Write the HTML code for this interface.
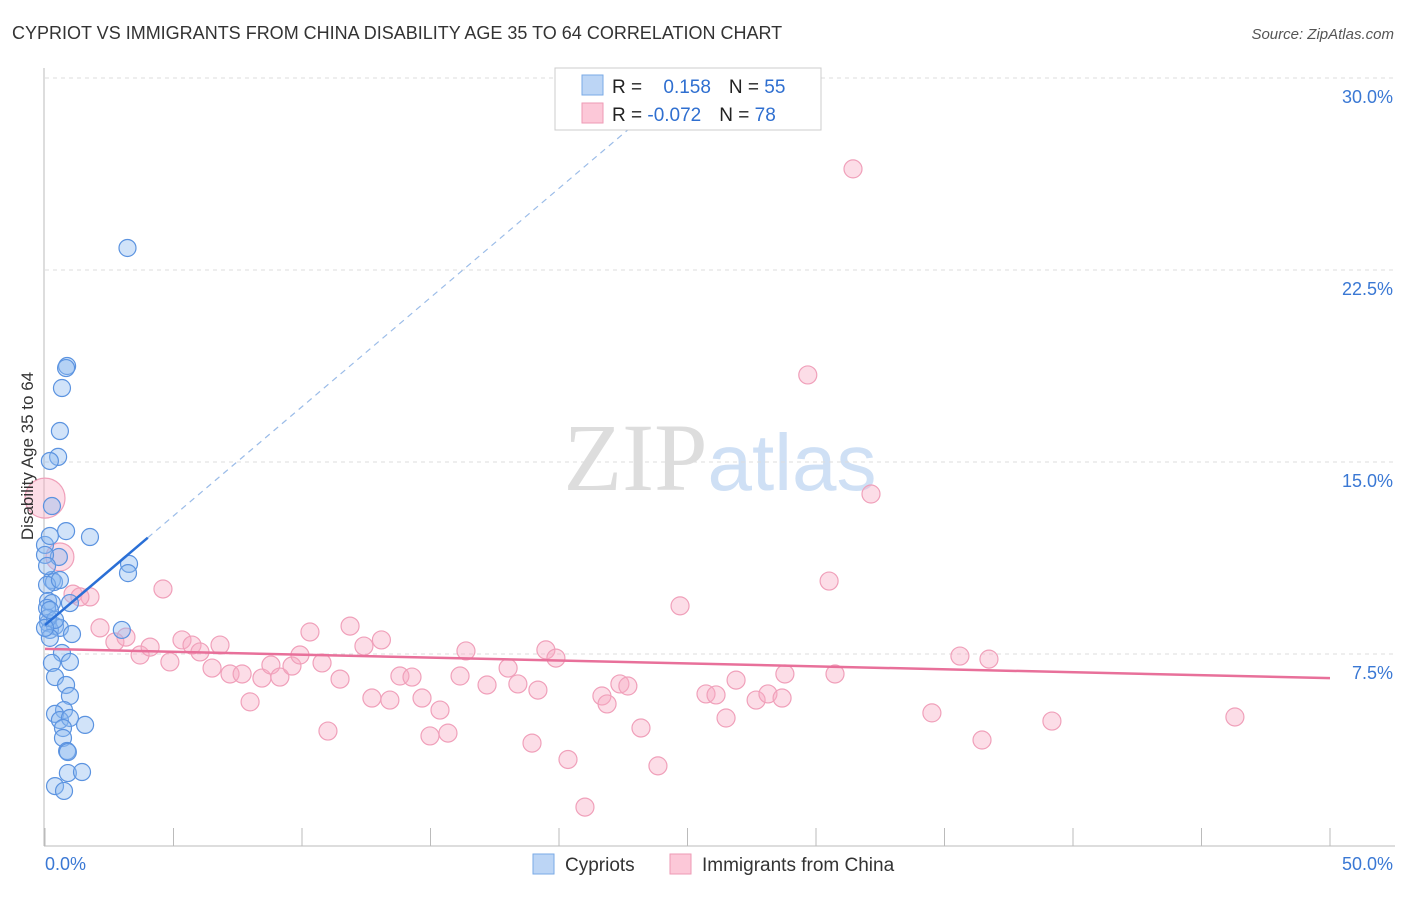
<!DOCTYPE html>
<html><head><meta charset="utf-8"><style>
body{margin:0;background:#fff;font-family:"Liberation Sans",sans-serif}
</style></head><body>
<svg id="chart" width="1406" height="892" xmlns="http://www.w3.org/2000/svg" font-family="Liberation Sans, sans-serif">
<text x="12" y="39" font-size="18" fill="#333">CYPRIOT VS IMMIGRANTS FROM CHINA DISABILITY AGE 35 TO 64 CORRELATION CHART</text>
<text x="1394" y="39" font-size="15" fill="#555" text-anchor="end" font-style="italic">Source: ZipAtlas.com</text>
<text x="720" y="490" font-size="96" text-anchor="middle"><tspan fill="#ddd" font-family="Liberation Serif, serif">ZIP</tspan><tspan fill="#cfe0f5" font-size="80">atlas</tspan></text>
<g id="grid"></g>
<g id="axes"></g>
<g id="marks"></g>
<text transform="translate(33,456) rotate(-90)" font-size="17" fill="#333" text-anchor="middle">Disability Age 35 to 64</text>
<g>
<rect x="555" y="68" width="266" height="62" fill="#fff" stroke="#ccc"/>
<rect x="582" y="75" width="21" height="20" fill="#bcd5f5" stroke="#7aaae6"/>
<rect x="582" y="103" width="21" height="20" fill="#fcc8d8" stroke="#ee9ab5"/>
<text x="612" y="93" font-size="19" fill="#222">R = <tspan fill="#2f6fd0" dx="16">0.158</tspan><tspan dx="18" fill="#222">N = </tspan><tspan fill="#2f6fd0">55</tspan></text>
<text x="612" y="121" font-size="19" fill="#222">R = <tspan fill="#2f6fd0">-0.072</tspan><tspan dx="18" fill="#222">N = </tspan><tspan fill="#2f6fd0">78</tspan></text>
</g>
<g>
<rect x="533" y="854" width="21" height="20" fill="#bcd5f5" stroke="#7aaae6"/>
<text x="565" y="871" font-size="19" fill="#333">Cypriots</text>
<rect x="670" y="854" width="21" height="20" fill="#fcc8d8" stroke="#ee9ab5"/>
<text x="702" y="871" font-size="19" fill="#333">Immigrants from China</text>
</g>
</svg>
<script>
const yTicks=[7.5,15,22.5,30];
const yTickLabels=["7.5%","15.0%","22.5%","30.0%"];
const xTicks=[0,5,10,15,20,25,30,35,40,45,50];
const cypX=[3.21,0.86,0.82,0.66,0.58,0.51,0.19,0.27,0.82,1.75,0,0.54,0,0.27,0.35,0.08,3.27,3.23,0.97,0.12,0.27,0.08,0.12,0.39,0.19,0.58,1.05,2.99,0.19,0.66,0.27,0.97,0.39,0.82,0.97,0.74,0.39,0.58,0.97,1.56,0.7,0.7,0.86,0.89,0.89,1.44,0.39,0.74,0.12,0.39,0,0.19,0.08,0.58,0.19];
const cypY=[23.36,18.75,18.67,17.89,16.21,15.2,15.04,13.28,12.3,12.07,11.76,11.29,11.37,10.39,10.31,10.2,11.02,10.66,9.49,9.57,9.49,9.3,8.71,8.59,8.44,8.52,8.28,8.44,8.13,7.54,7.15,7.19,6.6,6.29,5.86,5.31,5.16,4.92,5,4.73,4.61,4.22,3.71,3.67,2.85,2.89,2.34,2.15,8.91,8.83,8.52,9.22,10.94,10.39,12.11];
const chnX=[0,0.58,4.59,1.09,1.75,1.36,2.14,2.72,3.15,3.7,4.09,4.86,5.33,5.72,6.03,6.5,6.81,7.2,7.67,7.98,8.44,8.79,9.14,9.61,9.92,10.31,10.78,11.48,11.87,12.41,12.72,13.09,13.42,13.81,14.28,14.67,14.98,15.37,15.68,16.15,16.38,17.2,18.02,18.4,18.95,19.18,19.49,19.88,20.35,21.01,21.67,21.87,22.37,22.68,23.19,23.85,24.71,25.72,26.11,26.5,26.89,27.67,28.13,28.68,28.79,29.68,30.51,30.74,31.44,32.14,34.51,35.6,36.46,36.73,39.18,46.3,11.01];
const chnY=[13.59,11.29,10.04,9.84,9.73,9.73,8.52,7.97,8.16,7.46,7.77,7.19,8.05,7.85,7.58,6.95,7.85,6.72,6.72,5.63,6.56,7.07,6.6,7.03,7.46,8.36,7.15,6.52,8.59,7.81,5.78,8.05,5.7,6.64,6.6,5.78,4.3,5.31,4.41,6.64,7.62,6.29,6.95,6.33,4.02,6.09,7.66,7.34,3.38,1.52,5.86,5.55,6.33,6.25,4.61,3.13,9.38,5.94,5.9,5,6.48,5.7,5.94,5.78,6.72,18.4,10.35,6.72,26.45,13.75,5.2,7.42,4.14,7.3,4.88,5.04,4.49];
const cypTrend=[8.63,0.853,4.0,23.3];
const chnTrend=[7.7,-0.0228];
const X=v=>45+v*25.7, Y=v=>846-v*25.6;
const NS="http://www.w3.org/2000/svg";
function mk(t,a,p){const e=document.createElementNS(NS,t);for(const k in a)e.setAttribute(k,a[k]);p.appendChild(e);return e;}
const grid=document.getElementById('grid'),axes=document.getElementById('axes'),marks=document.getElementById('marks');
yTicks.forEach((t,i)=>{
 const l=mk('line',{x1:45,x2:1395,y1:Y(t),y2:Y(t),stroke:'#ddd','stroke-dasharray':'4,4'},grid);
 
 
 const tx=mk('text',{x:1393,y:Y(t)+25,'font-size':18,fill:'#3a78d4','text-anchor':'end'},axes);
 tx.textContent=yTickLabels[i];
 
 
});
const ax=mk('line',{x1:44,x2:44,y1:68,y2:846,stroke:'#bbb'},axes);


const bx=mk('line',{x1:44,x2:1395,y1:846,y2:846,stroke:'#bbb'},axes);


xTicks.forEach(t=>{
 const l=mk('line',{x1:X(t),x2:X(t),y1:828,y2:846,stroke:'#bbb'},axes);
 
 
});
const x0=mk('text',{x:45,y:870,'font-size':18,fill:'#3a78d4'},axes);x0.textContent='0.0%';


const x1=mk('text',{x:1393,y:870,'font-size':18,fill:'#3a78d4','text-anchor':'end'},axes);x1.textContent='50.0%';


chnX.forEach((v,i)=>{
 const r=i===0?20:(i===1?14:9);
 const c=mk('circle',{cx:X(v),cy:Y(chnY[i]),r:r,fill:'rgba(248,170,195,0.4)',stroke:'#f0a0ba','stroke-width':1.2},marks);
 
 
});
cypX.forEach((v,i)=>{
 const c=mk('circle',{cx:X(v),cy:Y(cypY[i]),r:8.5,fill:'rgba(140,185,240,0.4)',stroke:'#5b93e0','stroke-width':1.2},marks);
 
 
});
const [a,b,xs,xe]=cypTrend;
const s=mk('line',{x1:X(0),y1:Y(a),x2:X(xs),y2:Y(a+b*xs),stroke:'#2a6fd6','stroke-width':2.5},marks);


const d=mk('line',{x1:X(xs),y1:Y(a+b*xs),x2:X(xe),y2:Y(a+b*xe),stroke:'#9bbce8','stroke-width':1.2,'stroke-dasharray':'6,5'},marks);


const p=mk('line',{x1:X(0),y1:Y(chnTrend[0]),x2:X(50),y2:Y(chnTrend[0]+chnTrend[1]*50),stroke:'#e8709a','stroke-width':2.5},marks);


</script>
</body></html>
